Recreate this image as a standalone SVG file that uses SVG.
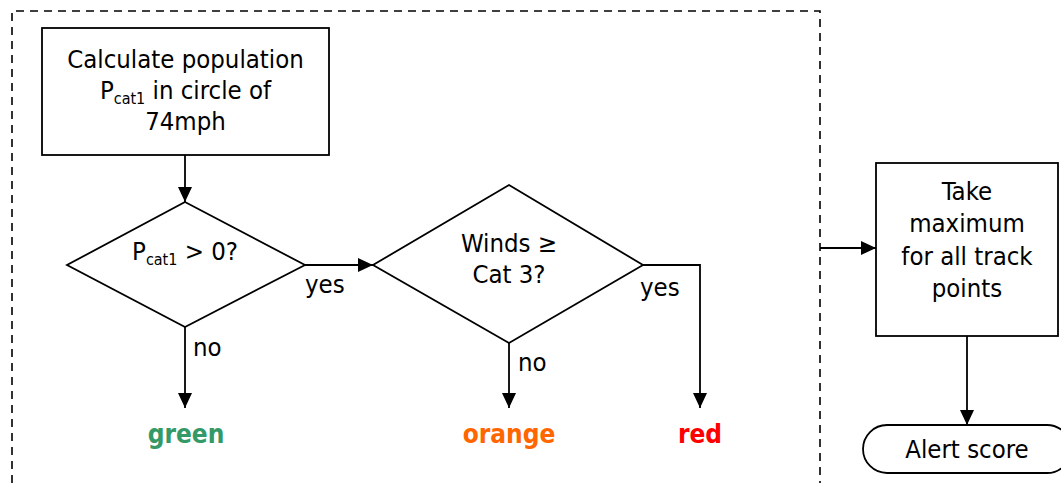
<svg xmlns="http://www.w3.org/2000/svg" width="1061" height="483" viewBox="0 0 1061 483">
  <style>
    .shape { fill: #ffffff; stroke: #000000; stroke-width: 1.8; }
    .txt { font-family: "DejaVu Sans Condensed", "DejaVu Sans", sans-serif; font-stretch: condensed; font-size: 25.5px; fill: #000000; }
    .mid { text-anchor: middle; }
    .sub { font-size: 16px; }
    .result { font-family: "DejaVu Sans Condensed", "DejaVu Sans", sans-serif; font-stretch: condensed; font-weight: bold; font-size: 26px; text-anchor: middle; }
    .conn { fill: none; stroke: #000000; stroke-width: 1.8; }
    .arrow { marker-end: url(#head); }
    .frame { fill: none; stroke: #000000; stroke-width: 1.6; stroke-dasharray: 8 6; }
  </style>
  <defs>
    <marker id="head" markerUnits="userSpaceOnUse" markerWidth="15" markerHeight="14" refX="15" refY="7" orient="auto">
      <path d="M0,0 L15,7 L0,14 z" fill="#000000"/>
    </marker>
  </defs>

  <rect width="1061" height="483" fill="#ffffff"/>

  <!-- dashed frame around the per-point evaluation -->
  <path class="frame" d="M12,483 V11 H820 V483"/>

  <g id="calc-population">
    <rect class="shape" x="42" y="28" width="287" height="127"/>
    <text class="txt mid" x="185.5" y="68">Calculate population</text>
    <text class="txt mid" x="185.5" y="99">P<tspan class="sub" dy="5">cat1</tspan><tspan dy="-5"> in circle of</tspan></text>
    <text class="txt mid" x="185.5" y="130">74mph</text>
  </g>

  <g id="decision-pcat1">
    <polygon class="shape" points="185,202 305,265 185,327 67,265"/>
    <text class="txt mid" x="185" y="260">P<tspan class="sub" dy="5">cat1</tspan><tspan dy="-5"> &gt; 0?</tspan></text>
  </g>

  <g id="decision-winds">
    <polygon class="shape" points="509,185 643,265 509,343 373,265"/>
    <text class="txt mid" x="509" y="252">Winds ≥</text>
    <text class="txt mid" x="509" y="283">Cat 3?</text>
  </g>

  <g id="result-green">
    <text class="result" x="186" y="443" fill="#339966">green</text>
  </g>
  <g id="result-orange">
    <text class="result" x="509" y="443" fill="#ff6600">orange</text>
  </g>
  <g id="result-red">
    <text class="result" x="700" y="443" fill="#ff0000">red</text>
  </g>

  <g id="take-maximum">
    <rect class="shape" x="876" y="163" width="182" height="173"/>
    <text class="txt mid" x="967" y="200">Take</text>
    <text class="txt mid" x="967" y="232">maximum</text>
    <text class="txt mid" x="967" y="265">for all track</text>
    <text class="txt mid" x="967" y="297">points</text>
  </g>

  <g id="alert-score">
    <rect class="shape" x="863" y="425" width="208" height="48" rx="24" ry="24"/>
    <text class="txt mid" x="967" y="458">Alert score</text>
  </g>

  <g id="connectors">
    <path class="conn arrow" d="M185,155 V202"/>
    <path class="conn arrow" d="M305,265 H373"/>
    <path class="conn arrow" d="M185,327 V408"/>
    <path class="conn arrow" d="M509,343 V408"/>
    <path class="conn arrow" d="M643,265 H700 V408"/>
    <path class="conn arrow" d="M820,248 H876"/>
    <path class="conn arrow" d="M967,336 V425"/>
    <text class="txt" x="305" y="293">yes</text>
    <text class="txt" x="193" y="356">no</text>
    <text class="txt" x="640" y="296">yes</text>
    <text class="txt" x="518" y="371">no</text>
  </g>
</svg>
